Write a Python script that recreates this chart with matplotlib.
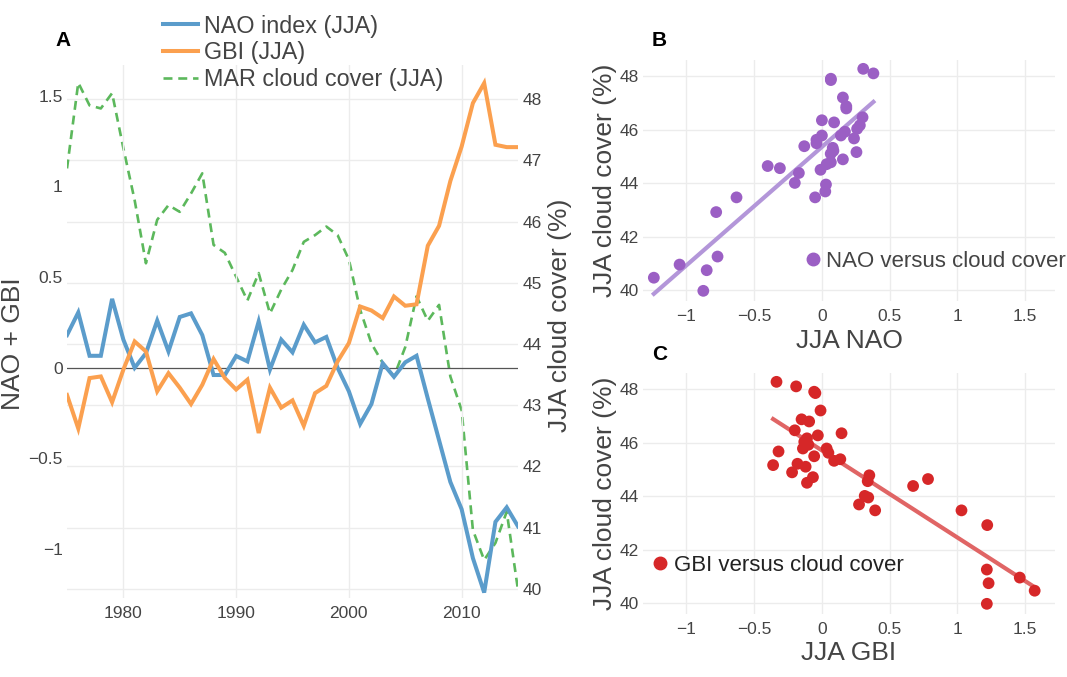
import numpy as np
import matplotlib
matplotlib.use("Agg")
import matplotlib.pyplot as plt
from matplotlib.lines import Line2D

plt.rcParams['font.family'] = ['Liberation Sans', 'DejaVu Sans']

years = list(range(1975, 2016))
nao = [0.18, 0.305, 0.066, 0.066, 0.38, 0.155, 0.0, 0.08, 0.26, 0.09,
       0.28, 0.30, 0.18, -0.04, -0.04, 0.065, 0.035, 0.255, -0.01, 0.155,
       0.085, 0.237, 0.14, 0.17, 0.0, -0.13, -0.31, -0.20, 0.025, -0.05,
       0.03, 0.066, -0.17, -0.40, -0.63, -0.78, -1.05, -1.24, -0.85, -0.77, -0.875]
gbi = [-0.15, -0.335, -0.057, -0.048, -0.19, -0.01, 0.145, 0.09, -0.13, -0.03,
       -0.11, -0.20, -0.094, 0.048, -0.057, -0.12, -0.066, -0.36, -0.11, -0.22,
       -0.18, -0.32, -0.14, -0.10, 0.035, 0.136, 0.338, 0.316, 0.274, 0.393,
       0.342, 0.35, 0.673, 0.783, 1.03, 1.22, 1.46, 1.57, 1.23, 1.217, 1.217]
cloud = [46.87, 48.27, 47.9, 47.85, 48.1, 47.2, 46.35, 45.32, 46.03, 46.27,
         46.16, 46.46, 46.79, 45.62, 45.49, 45.10, 44.71, 45.16, 44.50, 44.89,
         45.21, 45.67, 45.78, 45.92, 45.78, 45.38, 44.56, 44.01, 43.69, 43.47,
         43.95, 44.78, 44.38, 44.64, 43.47, 42.92, 40.96, 40.47, 40.75, 41.26, 39.98]

year_ticks = [1980, 1990, 2000, 2010]
left_ticks = [-1, -0.5, 0, 0.5, 1, 1.5]
right_ticks = [40, 41, 42, 43, 44, 45, 46, 47, 48]
scatter_xticks = [-1, -0.5, 0, 0.5, 1, 1.5]
scatter_yticks = [40, 42, 44, 46, 48]

c_nao = '#5b9ccb'
c_gbi = '#fba04f'
c_cloud = '#5cb85c'
c_purple = '#9b5fc4'
c_purple_line = '#b396d9'
c_red = '#d62728'
c_red_line = '#e06565'
txt = '#444444'
grid = '#ececec'

W, H = 1067, 677
fig = plt.figure(figsize=(W / 100, H / 100), dpi=100)


def box(l, t, r, b):
    return [l / W, 1 - b / H, (r - l) / W, (b - t) / H]


def fmt(v):
    s = ('%g' % v)
    return s.replace('-', '\u2212')


def style(ax):
    for s in ax.spines.values():
        s.set_visible(False)
    ax.tick_params(length=0, labelsize=12.5, labelcolor=txt, pad=3)


# ---------- Panel A ----------
axA = fig.add_axes(box(67, 65, 518, 598))
axR = axA.twinx()
style(axA)
style(axR)
axA.set_xlim(1975, 2015)
axA.set_ylim(-1.27, 1.67)
axR.set_ylim(39.85, 48.56)
axA.set_xticks(year_ticks)
axA.set_xticklabels([str(y) for y in year_ticks])
axA.tick_params(axis='x', pad=6)
axA.set_yticks(left_ticks)
axA.set_yticklabels([fmt(v) for v in left_ticks])
axR.set_yticks(right_ticks)
axR.set_yticklabels([fmt(v) for v in right_ticks])
axA.grid(False)
for y in year_ticks:
    axA.axvline(y, color=grid, lw=1, zorder=0)
axR.grid(axis='y', color=grid, lw=1)
axR.set_axisbelow(True)
axA.axhline(0, color='#555555', lw=0.9, zorder=1)
axA.plot(years, nao, color=c_nao, lw=2.9, zorder=3, solid_joinstyle='miter')
axA.plot(years, gbi, color=c_gbi, lw=2.9, zorder=4, solid_joinstyle='miter')
axR.plot(years, cloud, color=c_cloud, lw=1.9, dashes=(3.4, 2.2), zorder=5)
axA.set_zorder(axR.get_zorder() + 1)
axA.patch.set_visible(False)
axA.set_ylabel('NAO + GBI', fontsize=19, color=txt)
axA.yaxis.set_label_coords(-0.093, 0.478)
axR.set_ylabel('JJA cloud cover (%)', fontsize=19, color=txt)
axR.yaxis.set_label_coords(1.066, 0.53)

handles = [Line2D([], [], color=c_nao, lw=2.9),
           Line2D([], [], color=c_gbi, lw=2.9),
           Line2D([], [], color=c_cloud, lw=1.9, dashes=(3.4, 2.2))]
fig.legend(handles, ['NAO index (JJA)', 'GBI (JJA)', 'MAR cloud cover (JJA)'],
           loc='upper left', bbox_to_anchor=(151 / W, 1 - 3 / H), frameon=False,
           fontsize=16.8, handlelength=1.5, handletextpad=0.25, labelspacing=0.16,
           labelcolor=txt, borderpad=0)

fig.text(55 / W, 1 - 41 / H, 'A', fontsize=15, fontweight='bold', va='center', ha='left')
fig.text(652 / W, 1 - 40 / H, 'B', fontsize=15, fontweight='bold', va='center', ha='left')
fig.text(652 / W, 1 - 355 / H, 'C', fontsize=15, fontweight='bold', va='center', ha='left')


def scatter_panel(rect, xs, col, lcol, xlabel, leglabel, leg_anchor, legcolor):
    ax = fig.add_axes(rect)
    style(ax)
    ax.tick_params(axis='x', pad=6)
    ax.set_xlim(-1.32, 1.72)
    ax.set_ylim(39.6, 48.6)
    ax.set_xticks(scatter_xticks)
    ax.set_xticklabels([fmt(v) for v in scatter_xticks])
    ax.set_yticks(scatter_yticks)
    ax.set_yticklabels([fmt(v) for v in scatter_yticks])
    ax.grid(color=grid, lw=1)
    ax.set_axisbelow(True)
    xs_a = np.array(xs)
    ys_a = np.array(cloud)
    k, b0 = np.polyfit(xs_a, ys_a, 1)
    xl = np.array([xs_a.min(), xs_a.max()])
    ax.plot(xl, k * xl + b0, color=lcol, lw=3, zorder=2)
    ax.scatter(xs_a, ys_a, s=72, color=col, edgecolors='none', zorder=3)
    ax.set_xlabel(xlabel, fontsize=19, color=txt, labelpad=3)
    ax.set_ylabel('JJA cloud cover (%)', fontsize=19, color=txt, labelpad=2)
    h = Line2D([], [], marker='o', ls='none', color=col, markersize=9)
    ax.legend([h], [leglabel], loc='center left', bbox_to_anchor=leg_anchor,
              frameon=False, fontsize=16, handletextpad=0.0, handlelength=1.2,
              labelcolor=legcolor, borderpad=0, borderaxespad=0)
    return ax


axB = scatter_panel(box(643, 60, 1055, 301), nao, c_purple, c_purple_line,
                    'JJA NAO', 'NAO versus cloud cover', (0.38, 0.164), txt)
axC = scatter_panel(box(643, 373, 1055, 614), gbi, c_red, c_red_line,
                    'JJA GBI', 'GBI versus cloud cover', (0.01, 0.203), '#222222')

fig.savefig('out.png', dpi=100)
